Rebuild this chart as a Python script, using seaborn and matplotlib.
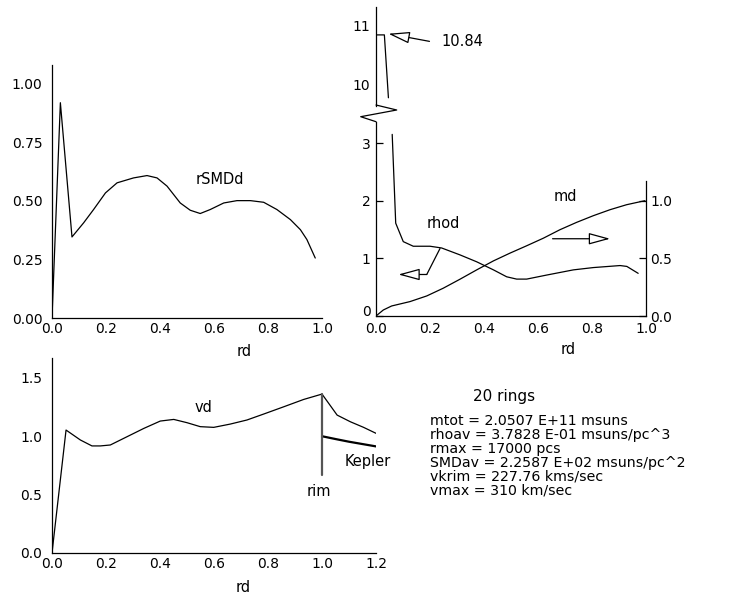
import numpy as np
import pandas as pd
import matplotlib
matplotlib.use("Agg")
import matplotlib.pyplot as plt
from matplotlib.lines import Line2D
import seaborn as sns

# ---------------- data ----------------
smd_rd = [0.0, 0.031, 0.074, 0.117, 0.154, 0.198, 0.241, 0.302, 0.352, 0.389, 0.426,
          0.475, 0.512, 0.549, 0.586, 0.636, 0.685, 0.735, 0.784, 0.833, 0.883,
          0.920, 0.944, 0.975]
smd_val = [0.0, 0.919, 0.346, 0.406, 0.463, 0.534, 0.577, 0.598, 0.608, 0.598, 0.563,
           0.491, 0.460, 0.446, 0.463, 0.491, 0.501, 0.501, 0.494, 0.463, 0.420,
           0.377, 0.335, 0.256]

rhod_rd = [0.0, 0.031, 0.046, 0.060, 0.073, 0.101, 0.138, 0.200, 0.243, 0.311, 0.373,
           0.435, 0.484, 0.521, 0.558, 0.632, 0.731, 0.805, 0.904, 0.929, 0.971]
rhod_val = [10.84, 10.84, 9.77, 3.15, 1.61, 1.29, 1.21, 1.21, 1.18, 1.06, 0.94,
            0.80, 0.68, 0.64, 0.64, 0.71, 0.80, 0.84, 0.875, 0.86, 0.74]
rhod_split = 3  # points above the axis break

md_rd = [0.0, 0.027, 0.058, 0.126, 0.188, 0.249, 0.311, 0.373, 0.435, 0.496, 0.558,
         0.620, 0.681, 0.743, 0.805, 0.867, 0.928, 0.996]
md_val = [0.0, 0.052, 0.087, 0.125, 0.174, 0.241, 0.319, 0.400, 0.478, 0.545, 0.609,
          0.675, 0.748, 0.812, 0.870, 0.922, 0.965, 1.0]

vd_rd = [0.0, 0.052, 0.105, 0.148, 0.179, 0.216, 0.278, 0.340, 0.401, 0.451, 0.500,
         0.549, 0.599, 0.660, 0.722, 0.784, 0.858, 0.932, 1.0, 1.025, 1.056, 1.105,
         1.154, 1.2]
vd_val = [0.0, 1.053, 0.968, 0.917, 0.917, 0.925, 0.996, 1.067, 1.130, 1.144, 1.116,
          1.082, 1.076, 1.104, 1.139, 1.190, 1.252, 1.315, 1.361, 1.281, 1.181, 1.124,
          1.076, 1.025]

kep_rd = [1.0, 1.05, 1.1, 1.15, 1.2]
kep_val = [1.0, 0.976, 0.953, 0.933, 0.913]

rim_rd = [1.0, 1.0]
rim_val = [0.67, 1.361]

info_title = "20 rings"
info_lines = [
    "mtot = 2.0507 E+11 msuns",
    "rhoav = 3.7828 E-01 msuns/pc^3",
    "rmax = 17000 pcs",
    "SMDav = 2.2587 E+02 msuns/pc^2",
    "vkrim = 227.76 kms/sec",
    "vmax = 310 km/sec",
]

# annotation arrows (data coords)
arrow_rhod_path_x = [0.237, 0.188]
arrow_rhod_path_y = [1.17, 0.72]
arrow_rhod_tip = (0.083, 0.72)
arrow_md_tail = (0.654, 1.34)
arrow_md_tip = (0.867, 1.34)
arrow_peak_tail = (0.198, 10.73)
arrow_peak_tip = (0.046, 10.86)

# ---------------- style ----------------
sns.set_theme(style="white")
plt.rcParams['font.family'] = ['DejaVu Sans']
plt.rcParams.update({
    'axes.linewidth': 0.9,
    'axes.edgecolor': 'black',
    'text.color': 'black',
    'axes.labelcolor': 'black',
    'xtick.color': 'black',
    'ytick.color': 'black',
    'xtick.labelcolor': 'black',
    'ytick.labelcolor': 'black',
    'xtick.major.size': 5,
    'ytick.major.size': 5,
    'xtick.major.width': 0.9,
    'ytick.major.width': 0.9,
    'xtick.labelsize': 10,
    'ytick.labelsize': 10,
})

W, H = 744, 594
fig = plt.figure(figsize=(W / 100, H / 100), dpi=100)
fig.patch.set_facecolor('white')


def fax(x0, x1, ytop, ybot):
    return [x0 / W, 1 - ybot / H, (x1 - x0) / W, (ybot - ytop) / H]


LW = 0.9
TXT = 10.5


def line(ax, x, y, **kw):
    df = pd.DataFrame({'x': x, 'y': y})
    sns.lineplot(data=df, x='x', y='y', ax=ax, sort=False, estimator=None,
                 color=kw.pop('color', 'black'), lw=kw.pop('lw', LW), **kw)
    ax.set_xlabel('')
    ax.set_ylabel('')


def rd_label(ax, xpos):
    ax.annotate('rd', xy=(xpos, 0), xycoords=('data', 'axes fraction'),
                xytext=(0, -34), textcoords='offset pixels', ha='center',
                va='center', fontsize=TXT, annotation_clip=False)


# ---------- top-left: rSMDd ----------
ax1 = fig.add_axes(fax(52, 322, 65, 318))
line(ax1, smd_rd, smd_val)
ax1.set_xlim(0, 1.0)
ax1.set_ylim(0, 1.08)
ax1.set_xticks([0, 0.2, 0.4, 0.6, 0.8, 1.0])
ax1.set_xticklabels(['0.0', '0.2', '0.4', '0.6', '0.8', '1.0'])
ax1.set_yticks([0, 0.25, 0.5, 0.75, 1.0])
ax1.set_yticklabels(['0.00', '0.25', '0.50', '0.75', '1.00'])
ax1.tick_params(axis='x', direction='in', pad=3)
ax1.tick_params(axis='y', direction='out', pad=2)
for s in ['top', 'right']:
    ax1.spines[s].set_visible(False)
ax1.text(0.62, 0.59, 'rSMDd', ha='center', va='center', fontsize=TXT)
rd_label(ax1, 0.71)

# ---------- top-right: rhod / md ----------
ax_lo = fig.add_axes(fax(376, 646, 121.7, 316))
ax_hi = fig.add_axes(fax(376, 646, 6.7, 106))
line(ax_lo, rhod_rd[rhod_split:], rhod_val[rhod_split:])
line(ax_hi, rhod_rd[:rhod_split], rhod_val[:rhod_split])
ax_lo.set_xlim(0, 1.0)
ax_lo.set_ylim(0, 3.37)
ax_hi.set_xlim(0, 1.0)
ax_hi.set_ylim(9.63, 11.32)
ax_lo.set_xticks([0, 0.2, 0.4, 0.6, 0.8, 1.0])
ax_lo.set_xticklabels(['0.0', '0.2', '0.4', '0.6', '0.8', '1.0'])
ax_lo.set_yticks([0, 1, 2, 3])
ax_lo.set_yticklabels(['0', '1', '2', '3'])
ax_lo.tick_params(axis='both', direction='in')
ax_lo.tick_params(axis='x', pad=4)
ax_lo.tick_params(axis='y', pad=4)
ax_lo.get_yticklabels()[0].set_va('baseline')
for s in ['top', 'right']:
    ax_lo.spines[s].set_visible(False)
ax_hi.set_yticks([10, 11])
ax_hi.set_yticklabels(['10', '11'])
ax_hi.set_xticks([])
ax_hi.tick_params(axis='y', direction='in', pad=4)
for s in ['top', 'right', 'bottom']:
    ax_hi.spines[s].set_visible(False)
ax_hi.patch.set_alpha(0)
ax_lo.patch.set_alpha(0)

ax_md = ax_lo.twinx()
line(ax_md, md_rd, md_val)
ax_md.set_ylim(0, 3.37 / 2)
ax_md.set_yticks([0, 0.5, 1.0])
ax_md.set_yticklabels(['0.0', '0.5', '1.0'])
ax_md.tick_params(axis='y', direction='in', pad=3)
for s in ['top', 'left', 'bottom']:
    ax_md.spines[s].set_visible(False)
ax_md.spines['right'].set_bounds(0, 1.17)
ax_md.grid(False)

ax_lo.text(0.25, 1.61, 'rhod', ha='center', va='center', fontsize=TXT)
ax_lo.text(0.70, 2.07, 'md', ha='center', va='center', fontsize=TXT)
ax_hi.text(0.243, 10.72, '10.84', ha='left', va='center', fontsize=TXT)
rd_label(ax_lo, 0.71)

aprops = dict(arrowstyle='-|>,head_length=1.1,head_width=0.3', fc='white',
              ec='black', lw=LW, shrinkA=0, shrinkB=0)
ax_lo.plot(arrow_rhod_path_x, arrow_rhod_path_y, color='black', lw=LW)
ax_lo.annotate('', xy=arrow_rhod_tip,
               xytext=(arrow_rhod_path_x[-1], arrow_rhod_path_y[-1]),
               arrowprops=aprops)
ax_lo.annotate('', xy=arrow_md_tip, xytext=arrow_md_tail, arrowprops=aprops)
ax_hi.annotate('', xy=arrow_peak_tip, xytext=arrow_peak_tail, arrowprops=aprops)

# axis break mark (figure pixels)
bx = [376, 396.7, 360.7, 376]
by = [105, 110, 116.7, 121.7]
fig.add_artist(Line2D([x / W for x in bx], [1 - y / H for y in by],
                      color='black', lw=LW))

# ---------- bottom-left: vd ----------
ax3 = fig.add_axes(fax(52, 376, 358, 553))
line(ax3, vd_rd, vd_val)
line(ax3, kep_rd, kep_val, lw=1.6)
line(ax3, rim_rd, rim_val, lw=1.6, color='#555555')
ax3.set_xlim(0, 1.2)
ax3.set_ylim(0, 1.67)
ax3.set_xticks([0, 0.2, 0.4, 0.6, 0.8, 1.0, 1.2])
ax3.set_xticklabels(['0.0', '0.2', '0.4', '0.6', '0.8', '1.0', '1.2'])
ax3.set_yticks([0, 0.5, 1.0, 1.5])
ax3.set_yticklabels(['0.0', '0.5', '1.0', '1.5'])
ax3.tick_params(axis='x', direction='in', pad=3)
ax3.tick_params(axis='y', direction='out', pad=2)
for s in ['top', 'right']:
    ax3.spines[s].set_visible(False)
ax3.text(0.56, 1.25, 'vd', ha='center', va='center', fontsize=TXT)
ax3.text(0.99, 0.53, 'rim', ha='center', va='center', fontsize=TXT)
ax3.text(1.085, 0.78, 'Kepler', ha='left', va='center', fontsize=TXT,
         clip_on=False)
rd_label(ax3, 0.707)

# ---------- text block ----------
fig.text(473 / W, 1 - 397 / H, info_title, ha='left', va='center', fontsize=11)
fig.text(430 / W, 1 - 414.0 / H, "\n".join(info_lines), ha='left', va='top',
         fontsize=10.2, linespacing=0.99)

fig.savefig('out.png', dpi=100, facecolor='white')
